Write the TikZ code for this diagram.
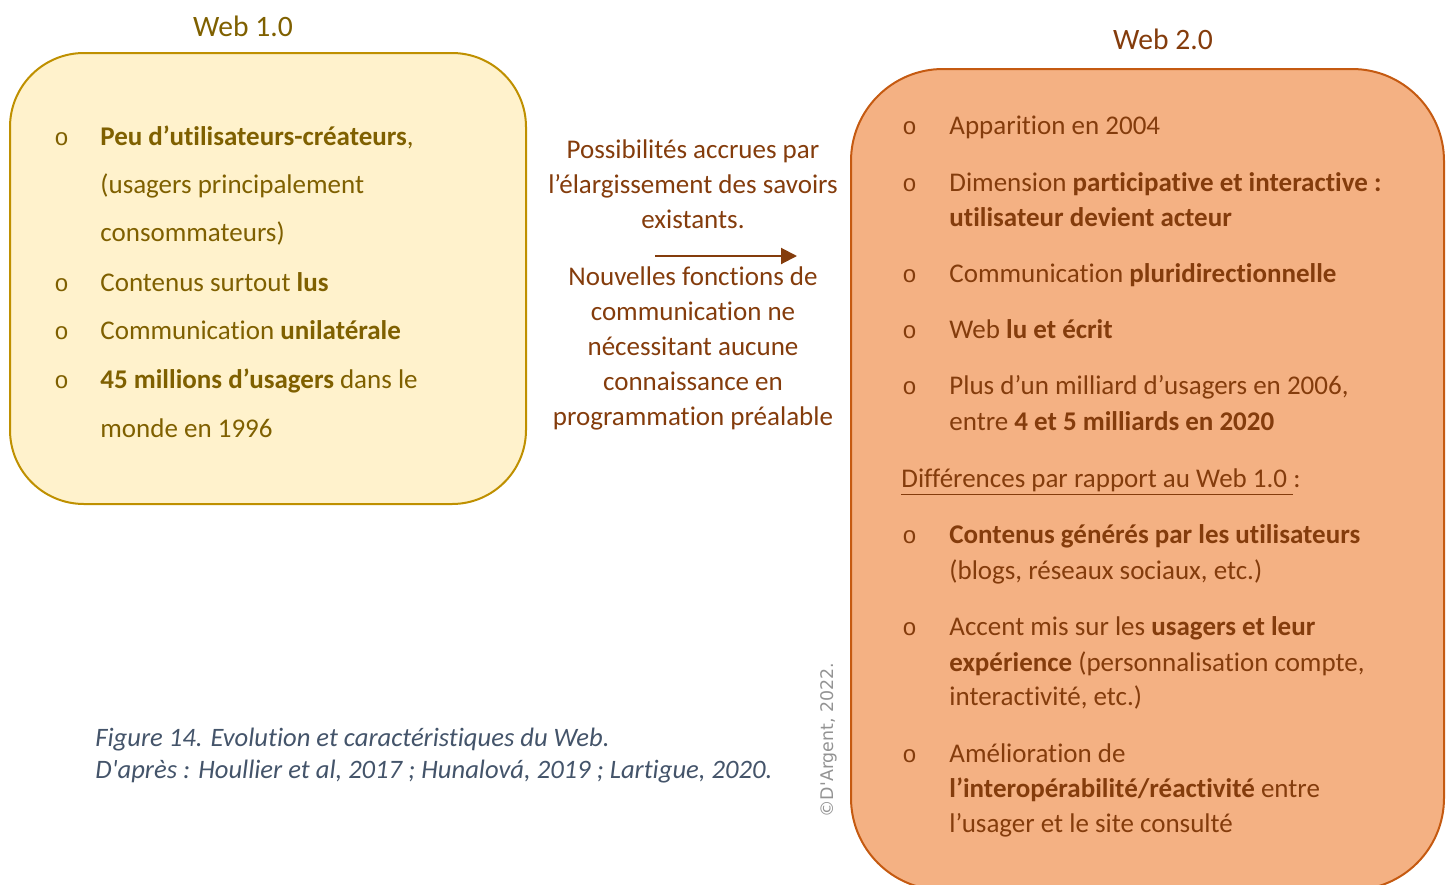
\documentclass[tikz,border=0pt]{standalone}
\usepackage{fontspec}
\setmainfont{Carlito}[Ligatures={TeX,NoCommon}]
\newfontfamily\bulletfont{Liberation Mono}
\newfontfamily\notefont{DejaVu Sans}
\usetikzlibrary{arrows.meta}
\definecolor{Acolor}{HTML}{FFF2CC}
\definecolor{Adraw}{HTML}{BF9000}
\definecolor{Atext}{HTML}{7F6000}
\definecolor{Bcolor}{HTML}{F4B183}
\definecolor{Bdraw}{HTML}{C55A11}
\definecolor{Btext}{HTML}{843C0C}
\definecolor{Ccolor}{HTML}{44546A}
\definecolor{Ncolor}{HTML}{939393}
\def\textsz{\fontsize{13.5}{16}\selectfont}
\def\titlesz{\fontsize{14.8}{17}\selectfont}
\def\bulletA{54}
\def\textA{100}
\def\bulletB{902}
\def\textB{949}

\begin{document}
\begin{tikzpicture}[x=0.5pt, y=-0.5pt,
    line/.style={anchor=base west, inner sep=0pt, font=\textsz},
    bull/.style={anchor=base west, inner sep=0pt, font=\bulletfont\fontsize{12}{14}\selectfont},
    mid/.style={anchor=base, inner sep=0pt, font=\textsz, text=Btext}]
    \useasboundingbox (0,0) rectangle (1451,884);
    % Web 1.0
    \node[anchor=base, inner sep=0pt, font=\titlesz, text=Atext] (titleA) at (243, 36) {Web 1.0};
    \draw[Adraw, line width=1pt, fill=Acolor, rounded corners=37pt] (10,53) rectangle (526,504);
    \node[bull, text=Atext] (bA1) at (\bulletA, 145) {o};
    \node[line, text=Atext] (tA1) at (\textA, 145) {\textbf{Peu d’utilisateurs-créateurs}, };
    \node[line, text=Atext] (tA2) at (\textA, 193) {(usagers principalement};
    \node[line, text=Atext] (tA3) at (\textA, 241) {consommateurs)};
    \node[bull, text=Atext] (bA2) at (\bulletA, 291) {o};
    \node[line, text=Atext] (tA4) at (\textA, 291) {Contenus surtout \textbf{lus}};
    \node[bull, text=Atext] (bA3) at (\bulletA, 339) {o};
    \node[line, text=Atext] (tA5) at (\textA, 339) {Communication \textbf{unilatérale}};
    \node[bull, text=Atext] (bA4) at (\bulletA, 388) {o};
    \node[line, text=Atext] (tA6) at (\textA, 388) {\textbf{45 millions d’usagers} dans le};
    \node[line, text=Atext] (tA7) at (\textA, 437) {monde en 1996};
    % transition
    \node[mid] (m1) at (693, 158) {Possibilités accrues par};
    \node[mid] (m2) at (693, 193) {l’élargissement des savoirs};
    \node[mid] (m3) at (693, 228) {existants.};
    \coordinate (arrS) at (655, 256);
    \coordinate (arrE) at (797, 256);
    \draw[Btext, line width=1pt, -{Triangle[length=8pt, width=8pt]}] (arrS) -- (arrE);
    \node[mid] (m4) at (693, 285) {Nouvelles fonctions de};
    \node[mid] (m5) at (693, 320) {communication ne};
    \node[mid] (m6) at (693, 355) {nécessitant aucune};
    \node[mid] (m7) at (693, 390) {connaissance en};
    \node[mid] (m8) at (693, 425) {programmation préalable};
    % Web 2.0
    \node[anchor=base, inner sep=0pt, font=\titlesz, text=Btext] (titleB) at (1163, 49) {Web 2.0};
    \draw[Bdraw, line width=1pt, fill=Bcolor, rounded corners=46pt] (851,69) rectangle (1444,890);
    \node[bull, text=Btext] (bB1) at (\bulletB, 134) {o};
    \node[line, text=Btext] (tB1) at (\textB, 134) {Apparition en 2004};
    \node[bull, text=Btext] (bB2) at (\bulletB, 191) {o};
    \node[line, text=Btext] (tB2) at (\textB, 191) {Dimension \textbf{participative et interactive :}};
    \node[line, text=Btext] (tB3) at (\textB, 226) {\textbf{utilisateur devient acteur}};
    \node[bull, text=Btext] (bB3) at (\bulletB, 282) {o};
    \node[line, text=Btext] (tB4) at (\textB, 282) {Communication \textbf{pluridirectionnelle}};
    \node[bull, text=Btext] (bB4) at (\bulletB, 338) {o};
    \node[line, text=Btext] (tB5) at (\textB, 338) {Web \textbf{lu et écrit}};
    \node[bull, text=Btext] (bB5) at (\bulletB, 394) {o};
    \node[line, text=Btext] (tB6) at (\textB, 394) {Plus d’un milliard d’usagers en 2006,};
    \node[line, text=Btext] (tB7) at (\textB, 430) {entre \textbf{4 et 5 milliards en 2020}};
    \node[line, text=Btext] (tB8) at (901, 487) {\underline{Différences par rapport au Web 1.0\ }:};
    \node[bull, text=Btext] (bB6) at (\bulletB, 543) {o};
    \node[line, text=Btext] (tB9) at (\textB, 543) {\textbf{Contenus générés par les utilisateurs}};
    \node[line, text=Btext] (tB10) at (\textB, 579) {(blogs, réseaux sociaux, etc.)};
    \node[bull, text=Btext] (bB7) at (\bulletB, 635) {o};
    \node[line, text=Btext] (tB11) at (\textB, 635) {Accent mis sur les \textbf{usagers et leur}};
    \node[line, text=Btext] (tB12) at (\textB, 671) {\textbf{expérience} (personnalisation compte,};
    \node[line, text=Btext] (tB13) at (\textB, 705) {interactivité, etc.)};
    \node[bull, text=Btext] (bB8) at (\bulletB, 762) {o};
    \node[line, text=Btext] (tB14) at (\textB, 762) {Amélioration de};
    \node[line, text=Btext] (tB15) at (\textB, 797) {\textbf{l’interopérabilité/réactivité} entre};
    \node[line, text=Btext] (tB16) at (\textB, 832) {l’usager et le site consulté};
    % caption
    \node[line, text=Ccolor, font=\fontsize{13.3}{16}\selectfont\itshape] (cap1) at (95, 746) {Figure 14. Evolution et caractéristiques du Web.};
    \node[line, text=Ccolor, font=\fontsize{13.3}{16}\selectfont\itshape] (cap2) at (95, 778) {D\textquotesingle après : Houllier et al, 2017 ; Hunalová, 2019 ; Lartigue, 2020.};
    \node[rotate=90, inner sep=0pt, text=Ncolor, font=\notefont\fontsize{8.7}{10}\selectfont] (note) at (829, 740) {©D'Argent, 2022.};
\end{tikzpicture}
\end{document}
